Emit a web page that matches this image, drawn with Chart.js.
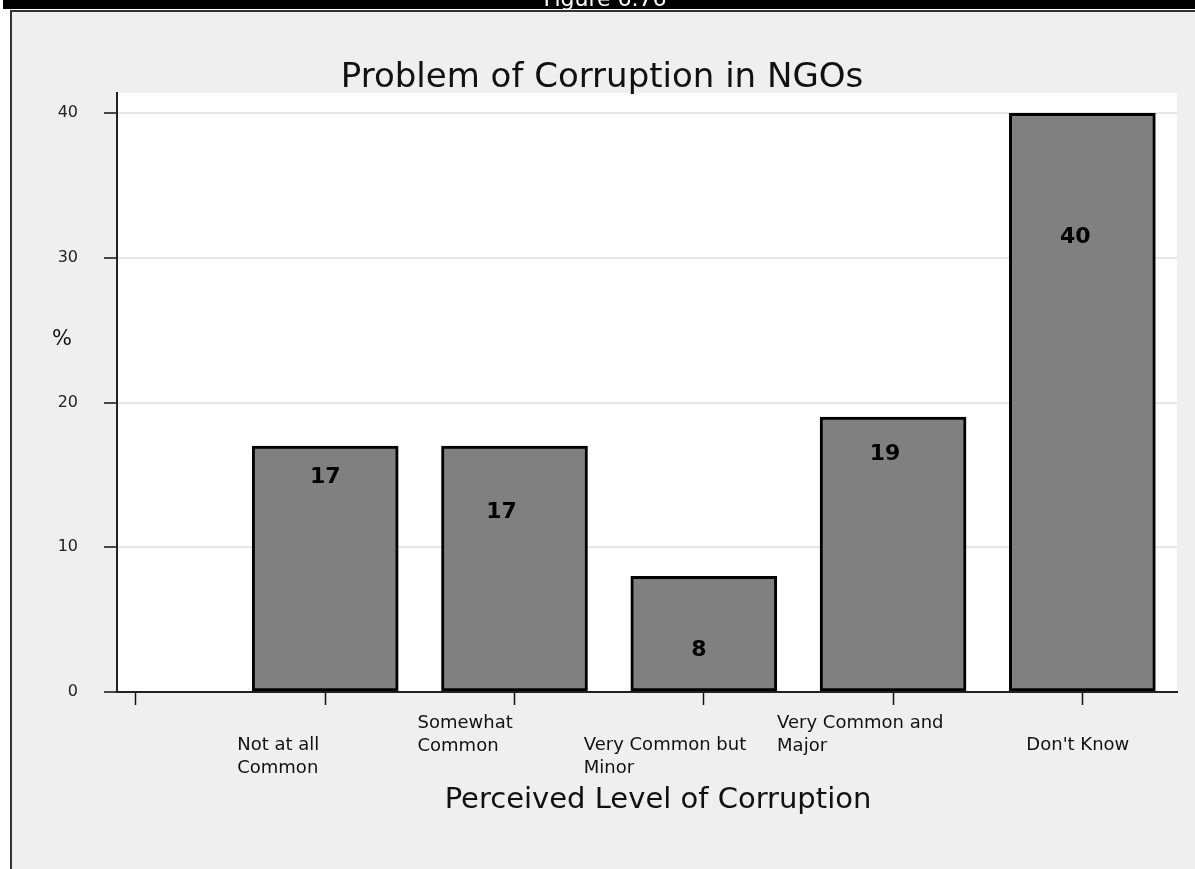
<!DOCTYPE html>
<html>
<head>
<meta charset="utf-8">
<script src="https://cdn.jsdelivr.net/npm/chart.js@4.4.1/dist/chart.umd.min.js"></script>
<style>
  html, body { margin: 0; padding: 0; background: #fff; }
  canvas { display: block; }
</style>
</head>
<body>
<canvas id="corruptionChart" width="1195" height="869"></canvas>
<script>
// Survey answers: perceived level of corruption in NGOs (%)
const categories = [
  ["Not at all", "Common"],
  ["Somewhat", "Common"],
  ["Very Common but", "Minor"],
  ["Very Common and", "Major"],
  ["Don't Know"]
];
const percents = [17, 17, 8, 19, 40];
const positions = [1, 2, 3, 4, 5];   // slot 0 on the axis stays empty
const xTicks = [0, 1, 2, 3, 4, 5];
const yTicks = [0, 10, 20, 30, 40];

const FONT = "'DejaVu Sans', Verdana, sans-serif";

// page frame, header strip and white plot panel
const framePlugin = {
  id: "framePlugin",
  beforeDraw(chart) {
    const { ctx, chartArea, width, height } = chart;
    ctx.save();
    ctx.fillStyle = "#fff";
    ctx.fillRect(0, 0, width, height);

    ctx.fillStyle = "#000";
    ctx.fillRect(3, 0, width - 3, 9);
    ctx.fillStyle = "#fff";
    ctx.font = "22px " + FONT;
    ctx.textAlign = "center";
    ctx.textBaseline = "alphabetic";
    ctx.save();
    ctx.beginPath();
    ctx.rect(0, 0, width, 9);
    ctx.clip();
    ctx.fillText("Figure 6.76", 605, 6);
    ctx.restore();

    ctx.fillStyle = "#efefef";
    ctx.fillRect(10, 10, width - 10, height - 10);
    ctx.fillStyle = "#333";
    ctx.fillRect(10, 10, width - 10, 2);
    ctx.fillRect(10, 10, 2, height - 10);

    ctx.fillStyle = "#fff";
    ctx.fillRect(chartArea.left, chartArea.top, chartArea.right - chartArea.left, chartArea.bottom - chartArea.top);
    ctx.restore();
  }
};

// titles, value labels and the staggered category labels
const textPlugin = {
  id: "textPlugin",
  afterDatasetsDraw(chart, args, opts) {
    const { ctx } = chart;
    const xs = chart.scales.x, ys = chart.scales.y;
    ctx.save();
    ctx.fillStyle = "#111";
    ctx.textBaseline = "middle";

    ctx.textAlign = "center";
    ctx.font = "34px " + FONT;
    ctx.fillText("Problem of Corruption in NGOs", 602, 78);

    ctx.font = "29px " + FONT;
    ctx.fillText("Perceived Level of Corruption", 658, 800);

    ctx.font = "21px " + FONT;
    ctx.fillText("%", 62, 340);

    // value labels inside the bars
    ctx.font = "bold 22px " + FONT;
    ctx.fillStyle = "#000";
    const meta = chart.getDatasetMeta(0);
    meta.data.forEach((bar, i) => {
      ctx.fillText(String(percents[i]), bar.x + opts.valueDx[i], ys.getPixelForValue(opts.valueAt[i]));
    });

    // category labels, left aligned, alternating rows
    ctx.font = "18px " + FONT;
    ctx.fillStyle = "#111";
    ctx.textAlign = "left";
    categories.forEach((lines, i) => {
      const x0 = xs.getPixelForValue(positions[i]) + opts.labelDx[i];
      const y0 = opts.labelRow[i];
      lines.forEach((line, j) => ctx.fillText(line, x0, y0 + j * 23));
    });
    ctx.restore();
  }
};

new Chart(document.getElementById("corruptionChart"), {
  type: "bar",
  data: {
    datasets: [{
      data: positions.map((p, i) => ({ x: p, y: percents[i] })),
      backgroundColor: "#808080",
      borderColor: "#000",
      borderWidth: 3,
      borderSkipped: false,
      barThickness: 146
    }]
  },
  options: {
    responsive: false,
    animation: false,
    layout: { padding: { top: 93, right: 18, left: 0, bottom: 0 } },
    plugins: {
      legend: { display: false },
      tooltip: { enabled: false },
      textPlugin: {
        valueAt: [14.85, 12.45, 2.9, 16.45, 31.45],
        valueDx: [0, -13, -5, -8, -7],
        labelDx: [-88, -97, -120, -116, -56],
        labelRow: [745, 723, 745, 723, 745]
      }
    },
    scales: {
      x: {
        type: "linear",
        offset: false,
        min: -0.1,
        max: 5.5,
        afterBuildTicks: (s) => { s.ticks = xTicks.map(v => ({ value: v })); },
        afterFit: (s) => { s.height = 869 - 692; },
        ticks: { display: false },
        grid: { offset: false, drawOnChartArea: false, tickColor: "#111", tickLength: 13, tickWidth: 1.5 },
        border: { color: "#222", width: 2 }
      },
      y: {
        min: 0,
        max: 41.4,
        afterBuildTicks: (s) => { s.ticks = yTicks.map(v => ({ value: v })); },
        afterFit: (s) => { s.width = 117; },
        ticks: { color: "#222", padding: 26, font: { size: 16, family: FONT } },
        grid: { color: "#e6e6e6", lineWidth: 2, tickColor: "#111", tickLength: 13, tickWidth: 1.5 },
        border: { color: "#222", width: 2 }
      }
    }
  },
  plugins: [framePlugin, textPlugin]
});
</script>
</body>
</html>
